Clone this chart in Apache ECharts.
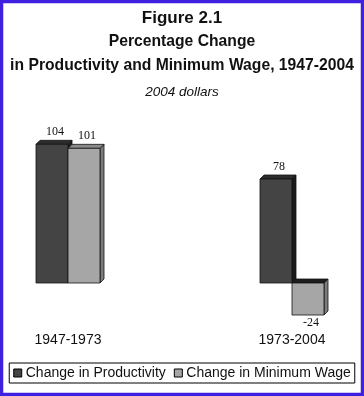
<!DOCTYPE html>
<html>
<head>
<meta charset="utf-8">
<script src="https://cdn.jsdelivr.net/npm/echarts@6/dist/echarts.min.js"></script>
<style>
html,body{margin:0;padding:0;background:#fff;}
#chart{width:364px;height:396px;}
</style>
</head>
<body>
<div id="chart"></div>
<script>
const categories = ['1947-1973', '1973-2004'];
const productivity = [104, 78];
const minimumWage = [101, -24];
const seriesNames = ['Change in Productivity', 'Change in Minimum Wage'];
const titleLines = ['Figure 2.1', 'Percentage Change', 'in Productivity and Minimum Wage, 1947-2004'];
const subtitle = '2004 dollars';

const palette = [
  { front: '#444444', top: '#2c2c2c', side: '#1c1c1c' },
  { front: '#a6a6a6', top: '#8a8a8a', side: '#7c7c7c' }
];

const chart = echarts.init(document.getElementById('chart'), null, { renderer: 'canvas' });

function renderBar(params, api) {
  const ci = api.value(0);
  const v = api.value(1);
  const base = api.coord([ci, 0]);
  const end = api.coord([ci, v]);
  const w = 32, d = 4;
  const s = params.seriesIndex;
  const x0 = s === 0 ? base[0] - w : base[0];
  const x1 = x0 + w;
  const yTop = Math.min(base[1], end[1]);
  const yBot = Math.max(base[1], end[1]);
  const c = palette[s];
  const stroke = '#111';
  const lw = 0.8;
  const cx = (x0 + x1) / 2 + 3;
  const label = v >= 0 ? [cx, yTop - 12] : [cx, yBot + 8];
  const topFill = v >= 0 ? c.top : '#1e1e1e';
  return {
    type: 'group',
    children: [
      { type: 'polygon', shape: { points: [[x1, yTop], [x1 + d, yTop - d], [x1 + d, yBot - d], [x1, yBot]] },
        style: { fill: c.side, stroke: stroke, lineWidth: lw } },
      { type: 'polygon', shape: { points: [[x0, yTop], [x0 + d, yTop - d], [x1 + d, yTop - d], [x1, yTop]] },
        style: { fill: topFill, stroke: stroke, lineWidth: lw } },
      { type: 'rect', shape: { x: x0, y: yTop, width: w, height: yBot - yTop },
        style: { fill: c.front, stroke: stroke, lineWidth: lw } },
      { type: 'text', x: label[0], y: label[1],
        style: { text: String(v), fill: '#111', font: '12px "Liberation Serif"', align: 'center', verticalAlign: 'middle' } }
    ]
  };
}

const option = {
  backgroundColor: '#ffffff',
  animation: false,
  title: [
    { text: titleLines[0], left: 'center', top: 10, padding: 0,
      textStyle: { fontFamily: 'Liberation Sans', fontWeight: 'bold', fontSize: 17, lineHeight: 17, color: '#111' } },
    { text: titleLines[1], left: 'center', top: 34, padding: 0,
      textStyle: { fontFamily: 'Liberation Sans', fontWeight: 'bold', fontSize: 15.7, lineHeight: 16, color: '#111' } },
    { text: titleLines[2], left: 'center', top: 58, padding: 0,
      textStyle: { fontFamily: 'Liberation Sans', fontWeight: 'bold', fontSize: 15.7, lineHeight: 16, color: '#111' } },
    { text: subtitle, left: 'center', top: 85, padding: 0,
      textStyle: { fontFamily: 'Liberation Sans', fontStyle: 'italic', fontWeight: 'normal', fontSize: 13.5, lineHeight: 14, color: '#111' } }
  ],
  legend: {
    data: seriesNames.map((n, i) => ({ name: n, icon: 'rect', itemStyle: { color: palette[i].front, borderColor: '#000', borderWidth: 1 } })),
    left: 'center', top: 363,
    padding: [3, 4], itemGap: 8, itemWidth: 8, itemHeight: 8,
    borderColor: '#000', borderWidth: 1,
    textStyle: { fontFamily: 'Liberation Sans', fontSize: 14, color: '#111', padding: [0, 0, 0, -1] },
    selectedMode: false
  },
  grid: { left: 68, right: 72, top: 123, bottom: 73 },
  xAxis: {
    type: 'category', data: categories, boundaryGap: false,
    axisLine: { show: false, onZero: false }, axisTick: { show: false }, splitLine: { show: false },
    axisLabel: { fontFamily: 'Liberation Sans', fontSize: 14, color: '#111', margin: 10 }
  },
  yAxis: { type: 'value', min: -30, max: 120, show: false },
  series: [
    { name: seriesNames[0], type: 'custom', renderItem: renderBar, encode: { x: 0, y: 1 },
      itemStyle: { color: palette[0].front }, data: productivity.map((v, i) => [i, v]) },
    { name: seriesNames[1], type: 'custom', renderItem: renderBar, encode: { x: 0, y: 1 },
      itemStyle: { color: palette[1].front }, data: minimumWage.map((v, i) => [i, v]) }
  ],
  graphic: [
    { type: 'rect', silent: true, z: 100, shape: { x: 1.5, y: 1.5, width: 361, height: 393 },
      style: { fill: 'none', stroke: '#4020e0', lineWidth: 3.5 } }
  ]
};
chart.setOption(option);
</script>
</body>
</html>
